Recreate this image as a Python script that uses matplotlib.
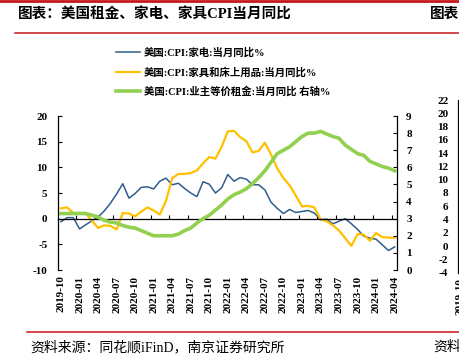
import pandas as pd
import matplotlib.pyplot as plt
from matplotlib.lines import Line2D

plt.rcParams.update(
    {
        "font.family": ["Liberation Serif", "Noto Sans CJK SC"],
        "font.weight": "bold",
        "axes.unicode_minus": False,
    }
)

# %%
# data (monthly, 2019-10 .. 2024-04)
months = pd.date_range("2019-10-01", "2024-04-01", freq="MS").strftime("%Y-%m").tolist()

appliances = [
    -0.6, 0.2, 0.2, -2.0, -1.2, -0.4, 0.3, 1.5, 3.0, 4.8,
    6.8, 4.0, 4.9, 6.1, 6.2, 5.8, 7.3, 7.9, 6.6, 6.9,
    5.9, 5.0, 4.3, 7.2, 6.7, 5.0, 6.0, 8.6, 7.3, 8.0,
    7.7, 6.6, 6.6, 5.6, 3.2, 2.0, 1.0, 1.8, 1.2, 1.4,
    1.6, 1.1, -0.2, -0.1, -1.0, -0.5, 0.0, -1.0, -2.1, -3.4,
    -3.8, -4.0, -5.1, -6.2, -5.5,
]
furniture = [
    2.0, 2.2, 1.1, 1.1, 1.1, -0.4, -1.8, -1.3, -1.4, -2.1,
    1.1, 1.0, 0.45, 1.4, 2.2, 1.6, 0.8, 3.5, 7.9, 8.7,
    8.7, 8.9, 9.4, 10.8, 12.0, 11.7, 14.0, 17.0, 17.1, 15.9,
    15.1, 12.9, 13.2, 14.8, 12.5, 9.8, 7.9, 6.5, 4.5, 2.4,
    2.5, 2.2, -0.1, -0.5, -1.3, -2.3, -3.8, -5.3, -3.0, -3.1,
    -4.3, -2.8, -3.6, -3.7, -3.7,
]
rent = [
    3.3, 3.3, 3.3, 3.3, 3.3, 3.2, 3.1, 2.9, 2.8, 2.75,
    2.6, 2.5, 2.45, 2.3, 2.15, 2.0, 2.0, 2.0, 2.0, 2.1,
    2.3, 2.45, 2.75, 3.0, 3.2, 3.5, 3.8, 4.15, 4.4, 4.55,
    4.75, 5.05, 5.4, 5.8, 6.3, 6.8, 7.0, 7.2, 7.5, 7.8,
    8.0, 8.0, 8.1, 7.95, 7.8, 7.7, 7.3, 7.05, 6.8, 6.7,
    6.35, 6.2, 6.05, 5.95, 5.8,
]

label_appliances = "美国:CPI:家电:当月同比%"
label_furniture = "美国:CPI:家具和床上用品:当月同比%"
label_rent = "美国:CPI:业主等价租金:当月同比 右轴%"

title = "图表：美国租金、家电、家具CPI当月同比"
source = "资料来源：同花顺iFinD，南京证券研究所"

red = "#C8161D"
W, H = 459, 358

# %%
fig = plt.figure(figsize=(W / 100, H / 100), dpi=100)

ax = fig.add_axes([58.5 / W, 1 - 270 / H, 338 / W, 154 / H])
ax2 = ax.twinx()

x = list(range(len(months)))
ax.plot(x, appliances, color="#2F5D8C", lw=1.1, label=label_appliances)
ax.plot(x, furniture, color="#FFC000", lw=1.6, label=label_furniture)
ax2.plot(x, rent, color="#92D050", lw=2.6, label=label_rent)

ax.set_xlim(-0.4, 54.3)
ax.set_ylim(-10, 20)
ax.set_yticks(range(-10, 21, 5))
ax2.set_ylim(0, 9)
ax2.set_yticks(range(0, 10))

# spines
for s in ["top", "right"]:
    ax.spines[s].set_visible(False)
for s in ["top", "bottom", "left"]:
    ax2.spines[s].set_visible(False)
ax.spines["bottom"].set_position(("data", 0))
for a, s in [(ax, "left"), (ax, "bottom"), (ax2, "right")]:
    a.spines[s].set_linewidth(0.9)

ax.tick_params(axis="y", direction="in", length=3, width=0.8, pad=8, labelsize=8)
ax2.tick_params(axis="y", direction="in", length=3, width=0.8, pad=7, labelsize=8)

# tick marks on the zero line sit between the quarter labels
ax.set_xticks([i + 2.5 for i in x[::3]][:-1])
ax.tick_params(axis="x", direction="in", length=3, width=0.8, labelbottom=False)

sec = ax.secondary_xaxis("bottom")
sec.set_xticks(x[::3], months[::3])
sec.tick_params(length=0, pad=4, labelsize=8, labelrotation=90)
sec.spines["bottom"].set_visible(False)

# legend
handles = ax.get_legend_handles_labels()[0] + ax2.get_legend_handles_labels()[0]
fig.legend(
    handles,
    [h.get_label() for h in handles],
    loc="upper left",
    bbox_to_anchor=(116 / W, 1 - 47.5 / H),
    frameon=False,
    prop=dict(family=["Liberation Serif", "Noto Sans CJK SC"], weight="bold", size=7.5),
    handlelength=2.3,
    handletextpad=0.4,
    labelspacing=0.86,
    borderpad=0,
    borderaxespad=0,
)

# next chart on the page, only its axis shows
axp = fig.add_axes([458 / W, 1 - 272.7 / H, 0.5, 172.7 / H])
axp.set_ylim(-4, 22)
axp.set_yticks(range(-4, 23, 2))
axp.set_xlim(-0.4, 54.3)
axp.set_xticks([0], [months[0]])
for s in ["top", "right", "bottom"]:
    axp.spines[s].set_visible(False)
axp.spines["left"].set_linewidth(0.9)
axp.tick_params(axis="y", direction="in", length=3, width=0.8, pad=7, labelsize=8)
axp.tick_params(axis="x", length=0, pad=4, labelsize=8, labelrotation=90)

# page furniture
fig.add_artist(Line2D([0, 1], [1 - 1.3 / H] * 2, color=red, lw=2.0, transform=fig.transFigure))
fig.add_artist(Line2D([15 / W, 1], [1 - 33 / H] * 2, color=red, lw=1.1, transform=fig.transFigure))
fig.add_artist(Line2D([27 / W, 1], [1 - 331.5 / H] * 2, color=red, lw=1.1, transform=fig.transFigure))

fig.text(18 / W, 1 - 14 / H, title, fontsize=10.5, weight="bold", va="center")
fig.text(430 / W, 1 - 14 / H, "图表", fontsize=10.5, weight="bold", va="center")
fig.text(30 / W, 1 - 347 / H, source, fontsize=10, weight="normal", va="center")
fig.text(433 / W, 1 - 347 / H, "资料", fontsize=10, weight="normal", va="center")

plt.savefig("out.png", dpi=100)
